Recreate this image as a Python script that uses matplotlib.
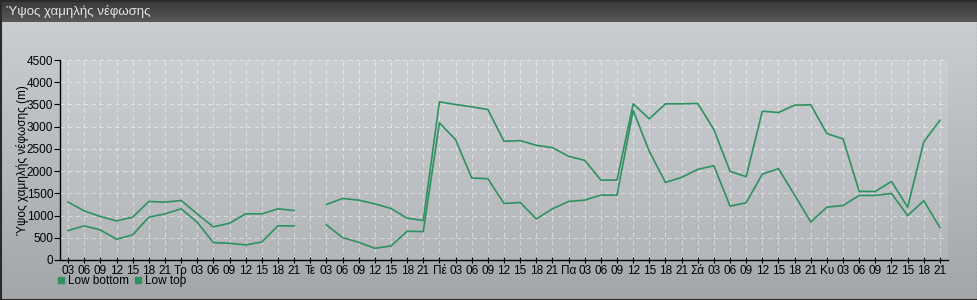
import numpy as np
import matplotlib.pyplot as plt
from matplotlib.lines import Line2D

plt.rcParams['font.family'] = ['Liberation Sans', 'DejaVu Sans']

# tick labels: first day 03..21, then day name + 03..21 for each next day
days = ['Τρ', 'Τε', 'Πέ', 'Πα', 'Σά', 'Κυ']
hours = ['03', '06', '09', '12', '15', '18', '21']
tick_labels = list(hours)
for d in days:
    tick_labels += [d] + hours

low_bottom = [662, 768, 677, 467, 564, 963, 1038, 1151, 850, 391, 376, 339, 406, 768, 768,
              np.nan,
              790, 504, 399, 263, 316, 647, 640, 3085, 2709, 1844, 1829, 1272, 1294, 926, 1151,
              1317, 1347, 1460, 1460, 3364, 2446, 1746, 1859, 2039, 2122, 1212, 1287, 1934, 2054,
              1460, 858, 1189, 1227, 1452, 1452, 1497, 1001, 1332, 730]
low_top = [1302, 1106, 978, 880, 963, 1317, 1302, 1339, 1038, 745, 828, 1038, 1038, 1151, 1114,
           np.nan,
           1249, 1385, 1347, 1264, 1159, 941, 888, 3559, 3499, 3446, 3386, 2671, 2686, 2581, 2528,
           2333, 2242, 1798, 1798, 3514, 3176, 3514, 3514, 3522, 2935, 1994, 1874, 3349, 3318,
           3484, 3492, 2844, 2724, 1543, 1543, 1768, 1189, 2656, 3145]

W, H = 978, 300
fig = plt.figure(figsize=(W / 100, H / 100), dpi=100)

# background: grey gradient with diagonal stripes, dark title bar
bg = fig.add_axes([0, 0, 1, 1])
yy, xx = np.mgrid[0:H, 0:W]
grad = 0.83 - 0.17 * (yy / H)
stripes = ((xx + yy) % 4 < 1).astype(float) * 0.04
img = np.clip(grad - stripes, 0, 1)
rgb = np.dstack([img * 0.98, img * 1.0, img * 1.02])
bar = yy < 22
title_shade = 0.22 + 0.13 * (yy / 22)
for c in range(3):
    rgb[..., c] = np.where(bar, title_shade, rgb[..., c])
rgb = np.clip(rgb, 0, 1)
bg.imshow(rgb, extent=(0, W, H, 0), aspect='auto', interpolation='nearest')
bg.plot([0.5, W - 0.5, W - 0.5, 0.5, 0.5], [0.5, 0.5, H - 0.5, H - 0.5, 0.5], color='#2a2a2a', lw=1.5)
bg.set_xlim(0, W)
bg.set_ylim(H, 0)
bg.axis('off')
fig.text(6 / W, 1 - 11 / H, 'Ύψος χαμηλής νέφωσης', color='#e6e6e6', fontsize=9.5, va='center')

ax = fig.add_axes([60 / W, 40 / H, 888 / W, 200 / H])
ax.set_facecolor((1, 1, 1, 0.12))
x = np.arange(len(tick_labels))
green = '#2e9160'
ax.plot(x, low_bottom, color=green, lw=1.2)
ax.plot(x, low_top, color=green, lw=1.2)

ax.set_xlim(-0.5, len(tick_labels) - 0.5)
ax.set_ylim(0, 4500)
ax.set_yticks(np.arange(0, 4501, 500))
ax.set_xticks(x)
ax.set_xticklabels(tick_labels)
ax.tick_params(axis='x', direction='inout', length=5, labelsize=8.5, pad=1, width=0.8)
ax.tick_params(axis='y', direction='out', length=4, labelsize=8.5, pad=1, width=0.8)
ax.grid(True, color='white', alpha=0.45, lw=0.8, linestyle=(0, (4, 3)))
ax.set_axisbelow(True)
for s in ['top', 'right']:
    ax.spines[s].set_visible(False)
for s in ['left', 'bottom']:
    ax.spines[s].set_linewidth(1.0)
ax.set_ylabel('Ύψος χαμηλής νέφωσης (m)', fontsize=8.5)
ax.yaxis.set_label_coords(-31 / 888, 0.5)

handles = [Line2D([], [], color=green, marker='s', linestyle='none', markersize=5),
           Line2D([], [], color=green, marker='s', linestyle='none', markersize=5)]
fig.legend(handles, ['Low bottom', 'Low top'], loc='center left', bbox_to_anchor=(46 / W, 1 - 281 / H),
           ncol=2, frameon=False, fontsize=8.5, handletextpad=0.15, columnspacing=0.4, handlelength=0.8)

fig.savefig('out.png', dpi=100)
